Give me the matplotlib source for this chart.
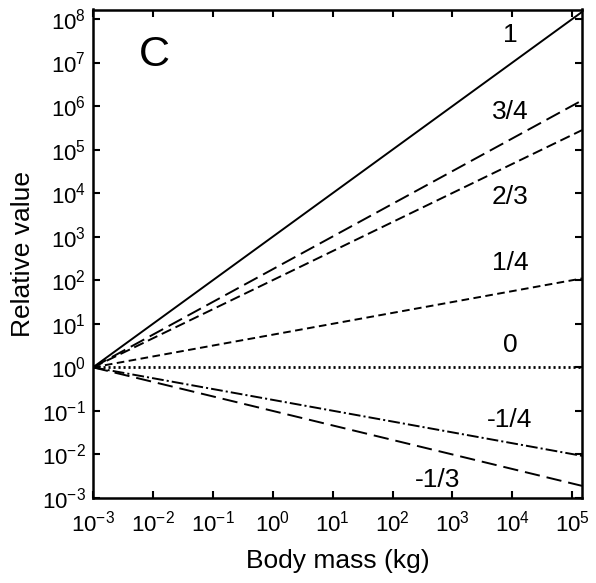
import matplotlib
matplotlib.use("Agg")
import matplotlib.pyplot as plt

plt.rcParams['font.family'] = ['Liberation Sans', 'DejaVu Sans']
plt.rcParams['lines.scale_dashes'] = False
plt.rcParams['axes.unicode_minus'] = False

# body mass range (kg) and relative value at the right end of each line
mass = [1e-3, 1.45e5]
labels = ["1", "3/4", "2/3", "1/4", "0", "-1/4", "-1/3"]
start_value = [1, 1, 1, 1, 1, 1, 1]
end_value = [1.45e8, 1.35e6, 2.8e5, 110, 1, 0.0093, 0.0019]

styles = ['-', (0, (11, 4.5)), (0, (7.5, 3.5)), (0, (5.5, 3.2)),
          (0, (1.5, 2.1)), (0, (8.5, 2.2, 1.5, 2.2)), (0, (11, 5))]
widths = [1.4, 1.4, 1.4, 1.4, 2.0, 1.4, 1.4]
label_pos = [(510, 35), (510, 112), (510, 197), (510, 263),
             (510, 345), (510, 420), (438, 480)]

fig = plt.figure(figsize=(5.96, 5.83), dpi=100)
ax = fig.add_axes([93 / 596, 1 - 498 / 583, (582 - 93) / 596, (498 - 9.5) / 583])

for y0, y1, ls, w in zip(start_value, end_value, styles, widths):
    ax.plot(mass, [y0, y1], color='black', lw=w, linestyle=ls)

ax.set_xscale('log')
ax.set_yscale('log')
ax.set_xlim(1e-3, 1.45e5)
ax.set_ylim(1e-3, 1.65e8)
ax.set_xticks([10.0 ** k for k in range(-3, 6)])
ax.set_yticks([10.0 ** k for k in range(-3, 9)])
ax.minorticks_off()
ax.tick_params(which='major', direction='in', length=5, width=1.5,
               top=True, right=True, labelsize=16, pad=5)
ax.tick_params(axis='x', pad=9)
for sp in ax.spines.values():
    sp.set_linewidth(1.8)

ax.set_xlabel("Body mass (kg)", fontsize=19, labelpad=9)
ax.set_ylabel("Relative value", fontsize=19, labelpad=5)

for lab, (px, py) in zip(labels, label_pos):
    fig.text(px / 596, 1 - py / 583, lab, fontsize=19, ha='center', va='center')
fig.text(154 / 596, 1 - 55 / 583, "C", fontsize=31, ha='center', va='center')

fig.savefig("out.png", dpi=100)
